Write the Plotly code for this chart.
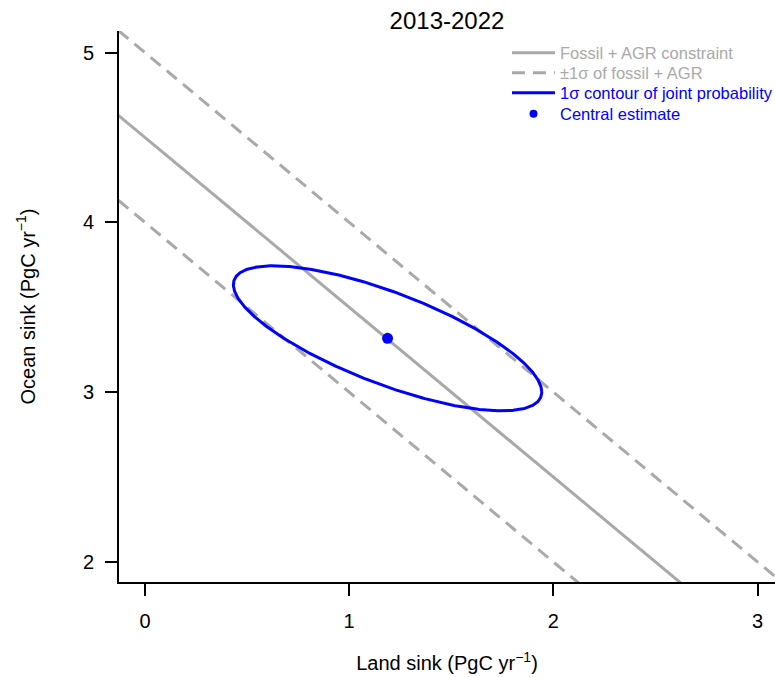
import numpy as np
import plotly.graph_objects as go

# ---- data ----
title_text = "2013-2022"
land_extent = [-1.0, 4.0]          # x-span used to draw the constraint lines
constraint_total = 4.5             # fossil + AGR constraint: land + ocean
constraint_sigma = 0.5             # ±1 sigma of that constraint
central_land = 1.188
central_ocean = 3.317
sd_land = 0.755
sd_ocean = 0.427
corr_land_ocean = -0.74
x_ticks = [0, 1, 2, 3]
y_ticks = [2, 3, 4, 5]

GREY = "#A9A9A9"
BLUE = "#0000FF"
FONT = "Liberation Sans, Arial, Helvetica, sans-serif"

land = np.array(land_extent)
ocean_mid = constraint_total - land
ocean_hi = constraint_total + constraint_sigma - land
ocean_lo = constraint_total - constraint_sigma - land

t = np.linspace(0, 2 * np.pi, 721)
ell_x = central_land + sd_land * np.cos(t)
ell_y = central_ocean + sd_ocean * (corr_land_ocean * np.cos(t)
                                    + np.sqrt(1 - corr_land_ocean ** 2) * np.sin(t))

fig = go.Figure()
fig.add_trace(go.Scatter(x=land, y=ocean_mid, mode="lines",
                         line=dict(color=GREY, width=3),
                         name="Fossil + AGR constraint", legend="legend"))
fig.add_trace(go.Scatter(x=land, y=ocean_hi, mode="lines",
                         line=dict(color=GREY, width=3, dash="13px,8px"),
                         name="±1σ of fossil + AGR", legend="legend2"))
fig.add_trace(go.Scatter(x=land, y=ocean_lo, mode="lines",
                         line=dict(color=GREY, width=3, dash="13px,8px"),
                         showlegend=False, legend="legend2"))
fig.add_trace(go.Scatter(x=ell_x, y=ell_y, mode="lines",
                         line=dict(color=BLUE, width=3),
                         name="1σ contour of joint probability", legend="legend3"))
fig.add_trace(go.Scatter(x=[central_land], y=[central_ocean], mode="markers",
                         marker=dict(color=BLUE, size=11),
                         showlegend=False))
fig.add_trace(go.Scatter(x=[None], y=[None], mode="markers",
                         marker=dict(color=BLUE, size=8),
                         name="Central estimate", legend="legend4"))

W, H = 775, 677
L, R, T, B = 119, 0, 31, 95
plot_w, plot_h = W - L - R, H - T - B

def px_x(px):
    return (px - L) / plot_w

def px_y(py):
    return (H - B - py) / plot_h

leg_common = dict(xanchor="left", yanchor="middle", bgcolor="rgba(0,0,0,0)",
                  borderwidth=0, itemwidth=43, tracegroupgap=0)
legx = px_x(507)
leg_size = 16.5

fig.update_layout(
    width=W, height=H,
    margin=dict(l=L, r=R, t=T, b=B, autoexpand=False),
    paper_bgcolor="white", plot_bgcolor="white",
    font=dict(family=FONT, size=20, color="black"),
    title=dict(text=title_text, x=0.5, xref="paper", y=1 - 21 / H,
               yref="container", yanchor="middle", xanchor="center",
               font=dict(size=24, family=FONT, color="black")),
    showlegend=True,
    legend=dict(x=legx, y=px_y(53), font=dict(size=leg_size, color=GREY, family=FONT), **leg_common),
    legend2=dict(x=legx, y=px_y(73), font=dict(size=leg_size, color=GREY, family=FONT), **leg_common),
    legend3=dict(x=legx, y=px_y(93), font=dict(size=leg_size, color=BLUE, family=FONT), **leg_common),
    legend4=dict(x=legx, y=px_y(114), font=dict(size=leg_size, color=BLUE, family=FONT), **leg_common),
    xaxis=dict(range=[-0.127, 3.085], tickvals=x_ticks, ticktext=[str(v) for v in x_ticks],
               showgrid=False, zeroline=False, showline=True, linecolor="black",
               linewidth=2, ticks="outside", ticklen=12, tickwidth=2, tickcolor="black",
               ticklabelstandoff=8,
               title=dict(text="Land sink (PgC yr<sup>−1</sup>)", standoff=25,
                          font=dict(size=20, family=FONT)),
               automargin=False, fixedrange=True),
    yaxis=dict(range=[1.882, 5.127], tickvals=y_ticks, ticktext=[str(v) for v in y_ticks],
               showgrid=False, zeroline=False, showline=True, linecolor="black",
               linewidth=2, ticks="outside", ticklen=12, tickwidth=2, tickcolor="black",
               ticklabelstandoff=7,
               title=dict(text="Ocean sink (PgC yr<sup>−1</sup>)", standoff=42,
                          font=dict(size=20, family=FONT)),
               automargin=False, fixedrange=True),
)

fig.write_html(
    "out.html",
    config={"displayModeBar": False},
    post_script="document.body.style.margin='0';document.body.style.overflow='hidden';",
)
